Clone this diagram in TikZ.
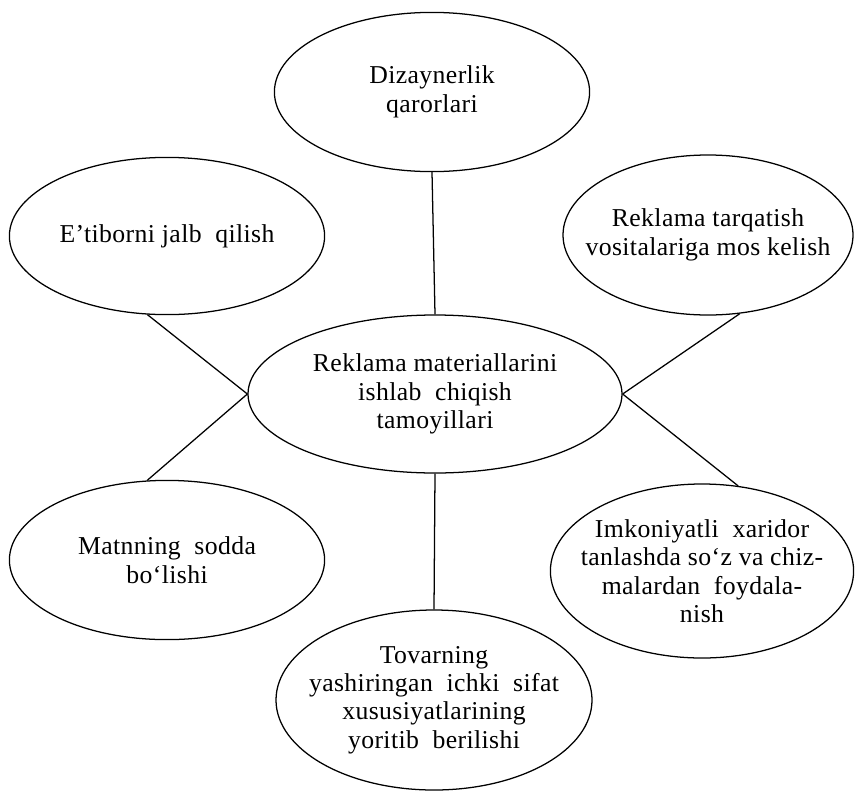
\documentclass[tikz,border=0pt]{standalone}
\usepackage{fontspec}
\setmainfont[LetterSpace=1.5]{Liberation Serif}
\usepackage{tikz}
\usetikzlibrary{shapes.geometric}

\begin{document}
\begin{tikzpicture}[font=\fontsize{18.3}{20.2}\selectfont,
    bubble/.style={ellipse, draw, line width=0.9pt, align=center,
      inner xsep=-1cm, inner ysep=-0.5cm},
    link/.style={line width=0.9pt}]
  \useasboundingbox (0, 0) rectangle (21.4, -19.8);
  % Centre: the principles
  \node[bubble, minimum width=9.35cm, minimum height=3.95cm] (cen)
    at (10.875, -9.85) {Reklama materiallarini\\ishlab\ \ chiqish\\tamoyillari};
  % Surrounding ideas
  \node[bubble, minimum width=7.88cm, minimum height=3.98cm] (diz)
    at (10.8, -2.3) {Dizaynerlik\\qarorlari};
  \node[bubble, minimum width=7.88cm, minimum height=3.93cm] (etib)
    at (4.175, -5.9) {E’tiborni jalb\ \ qilish};
  \node[bubble, minimum width=7.25cm, minimum height=4cm] (rekt)
    at (17.7, -5.875) {Reklama tarqatish\\vositalariga mos kelish};
  \node[bubble, minimum width=7.88cm, minimum height=3.98cm] (matn)
    at (4.175, -14.0) {Matnning\ \ sodda\\bo‘lishi};
  \node[bubble, minimum width=7.9cm, minimum height=4.5cm] (tovar)
    at (10.85, -17.5)
    {Tovarning\\yashiringan\ \ ichki\ \ sifat\\xususiyatlarining\\yoritib\ \ berilishi};
  \node[bubble, minimum width=7.58cm, minimum height=4.35cm] (imkon)
    at (17.55, -14.275)
    {Imkoniyatli\ \ xaridor\\tanlashda so‘z va chiz-\\malardan\ \ foydala-\\nish};
  % Spokes
  \draw[link] (diz.south) -- (cen.north);
  \draw[link] (cen.south) -- (tovar.north);
  \draw[link] (etib.256) -- (cen.west);
  \draw[link] (matn.104) -- (cen.west);
  \draw[link] (rekt.292) -- (cen.east);
  \draw[link] (imkon.67) -- (cen.east);
\end{tikzpicture}
\end{document}
